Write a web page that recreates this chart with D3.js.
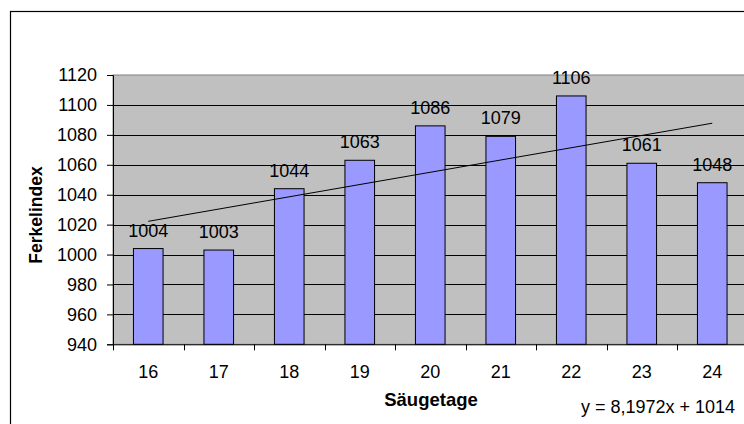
<!DOCTYPE html>
<html>
<head>
<meta charset="utf-8">
<script src="https://cdn.jsdelivr.net/npm/d3@7"></script>
<style>
  body { margin: 0; background: #fff; }
  svg { display: block; font-family: "Liberation Sans", Arial, sans-serif; }
</style>
</head>
<body>
<svg id="chart" width="744" height="424"></svg>
<script>
// Säugetage vs Ferkelindex
const days = ['16', '17', '18', '19', '20', '21', '22', '23', '24'];
const index = [1004, 1003, 1044, 1063, 1086, 1079, 1106, 1061, 1048];
const yTicks = [940, 960, 980, 1000, 1020, 1040, 1060, 1080, 1100, 1120];
const trendSlope = 8.1972, trendIntercept = 1014;
const trendLabel = 'y = 8,1972x + 1014';

const svg = d3.select('#chart');

const plotLeft = 113, plotRight = 747.5, plotTop = 75, plotBottom = 344.3;
const fs = 18;

const x = d3.scaleBand().domain(days).range([plotLeft, plotRight]).padding(0);
const y = d3.scaleLinear().domain([940, 1120]).range([plotBottom, plotTop]);
const barW = x.bandwidth() * 0.42;

// outer frame
svg.append('rect')
    .attr('x', 10.5).attr('y', 11.5)
    .attr('width', 800).attr('height', 500)
    .attr('fill', 'white')
    .attr('stroke', 'black')
    .attr('stroke-width', 1.2);

// plot area
svg.append('rect')
    .attr('x', plotLeft).attr('y', plotTop)
    .attr('width', plotRight - plotLeft).attr('height', plotBottom - plotTop)
    .attr('fill', '#c0c0c0')
    .attr('stroke', '#808080');

// gridlines
svg.append('g').selectAll('line')
    .data(yTicks.slice(1, -1))
    .join('line')
    .attr('x1', plotLeft).attr('x2', plotRight)
    .attr('y1', d => Math.round(y(d)) + 0.5)
    .attr('y2', d => Math.round(y(d)) + 0.5)
    .attr('stroke', 'black');

// bars
svg.append('g').selectAll('rect')
    .data(index)
    .join('rect')
    .attr('x', (d, i) => x(days[i]) + x.bandwidth() / 2 - barW / 2)
    .attr('y', d => y(d))
    .attr('width', barW)
    .attr('height', d => plotBottom - y(d))
    .attr('fill', '#9999ff')
    .attr('stroke', 'black')
    .attr('stroke-width', 1);

// data labels
svg.append('g').selectAll('text')
    .data(index)
    .join('text')
    .attr('x', (d, i) => x(days[i]) + x.bandwidth() / 2)
    .attr('y', d => y(d) - 12)
    .attr('text-anchor', 'middle')
    .attr('font-size', fs)
    .text(d => d);

// linear trend line
const trend = d3.line()
    .x(d => x(days[d - 1]) + x.bandwidth() / 2)
    .y(d => y(trendSlope * d + trendIntercept));
svg.append('path')
    .datum([1, days.length])
    .attr('d', trend)
    .attr('fill', 'none')
    .attr('stroke', 'black')
    .attr('stroke-width', 1);

// y axis
const yAxis = svg.append('g')
    .attr('transform', `translate(${plotLeft},0)`)
    .call(d3.axisLeft(y).tickValues(yTicks).tickFormat(d3.format('d')).tickSize(6).tickPadding(10));
yAxis.select('.domain').attr('stroke', 'black');
yAxis.selectAll('text').attr('font-size', fs).attr('font-family', null).attr('fill', 'black');

// x axis
const xAxis = svg.append('g')
    .attr('transform', `translate(0,${plotBottom})`)
    .call(d3.axisBottom(x).tickSize(0).tickPadding(21));
xAxis.select('.domain').attr('stroke', 'black');
xAxis.selectAll('text').attr('font-size', fs).attr('font-family', null).attr('fill', 'black');
xAxis.append('g').selectAll('line')
    .data(days.map(d => x(d)))
    .join('line')
    .attr('x1', d => Math.round(d) + 0.5).attr('x2', d => Math.round(d) + 0.5)
    .attr('y1', 0).attr('y2', 6)
    .attr('stroke', 'black');

// axis titles
svg.append('text')
    .attr('x', 431).attr('y', 406)
    .attr('text-anchor', 'middle')
    .attr('font-size', 18.5)
    .attr('font-weight', 'bold')
    .text('Säugetage');

svg.append('text')
    .attr('transform', 'translate(42,215) rotate(-90)')
    .attr('text-anchor', 'middle')
    .attr('font-size', 17.5)
    .attr('font-weight', 'bold')
    .text('Ferkelindex');

// trend equation
svg.append('text')
    .attr('x', 735).attr('y', 413)
    .attr('text-anchor', 'end')
    .attr('font-size', fs)
    .text(trendLabel);
</script>
</body>
</html>
